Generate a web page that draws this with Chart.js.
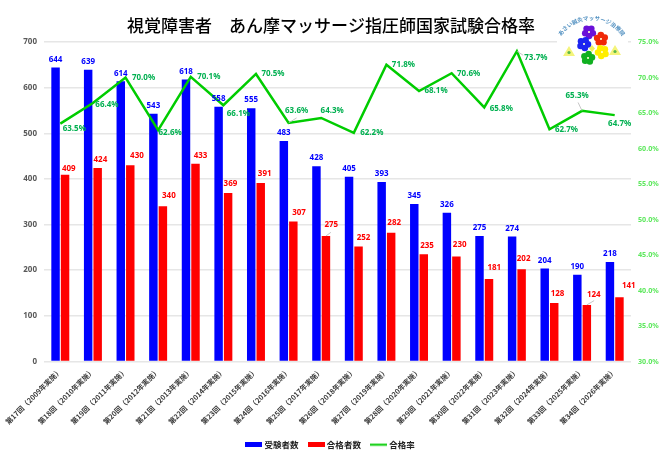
<!DOCTYPE html>
<html lang="ja">
<head>
<meta charset="utf-8">
<title>視覚障害者 あん摩マッサージ指圧師国家試験合格率</title>
<script src="https://cdn.jsdelivr.net/npm/chart.js@4"></script>
<style>
html,body{margin:0;padding:0;background:#fff}
#wrap{width:662px;height:458px}
</style>
</head>
<body>
<div id="wrap"><canvas id="c" width="662" height="458"></canvas></div>
<script>
const FONT = '"Noto Sans CJK JP","Noto Sans",sans-serif';
const NUM_FONT = '"Noto Sans",sans-serif';

const categories = [
  '第17回（2009年実施）','第18回（2010年実施）','第19回（2011年実施）','第20回（2012年実施）',
  '第21回（2013年実施）','第22回（2014年実施）','第23回（2015年実施）','第24回（2016年実施）',
  '第25回（2017年実施）','第26回（2018年実施）','第27回（2019年実施）','第28回（2020年実施）',
  '第29回（2021年実施）','第30回（2022年実施）','第31回（2023年実施）','第32回（2024年実施）',
  '第33回（2025年実施）','第34回（2026年実施）'
];
const examinees = [644,639,614,543,618,558,555,483,428,405,393,345,326,275,274,204,190,218];
const passers   = [409,424,430,340,433,369,391,307,275,252,282,235,230,181,202,128,124,141];
const passRates = [63.5,66.4,70.0,62.6,70.1,66.1,70.5,63.6,64.3,62.2,71.8,68.1,70.6,65.8,73.7,62.7,65.3,64.7];

// Hand placement of the value labels, relative to the top of each mark
const examineeShift = [0, -8];
const passerShift = [
  [3.7,-6.3],[2.7,-8.7],[6.7,-9.7],[6,-11],[5,-8.3],[2.3,-9],[4,-9.3],[5.7,-8.7],[5.3,-11],
  [5,-9],[3,-10],[3.3,-9],[3.3,-11.7],[5.3,-11.3],[2,-11],[3.3,-9.3],[7,-10],[9.3,-11]
];
const rateShift = [
  [14,5],[14,2],[18,0],[12,3],[18,0],[15,9],[17,0],[8,-12],[11,-7],
  [18,0],[17,0],[17,0],[17,0],[17,1],[19,6],[17,0],[-5,-15],[5,9]
];
// Thin connectors from a mark to a label that was moved away from it
const passerLeaders = {8:[5,-3.7], 16:[7.3,-4.3]};
const rateLeaders = {7:[8,-5], 14:[6.3,4], 16:[-4,-8.4]};

function swatch(color, h) {
  const s = document.createElement('canvas');
  s.width = 17; s.height = 5;
  const g = s.getContext('2d');
  g.fillStyle = color;
  g.fillRect(0, (5 - h) / 2, 17, h);
  return s;
}

const valueLabels = {
  id: 'valueLabels',
  afterDatasetsDraw(chart) {
    const { ctx } = chart;
    ctx.save();
    ctx.font = 'bold 8px ' + NUM_FONT;
    ctx.textAlign = 'center';
    ctx.textBaseline = 'middle';
    const leader = (p, d) => {
      ctx.strokeStyle = '#b8b8b8';
      ctx.lineWidth = 0.8;
      ctx.beginPath();
      ctx.moveTo(p.x, p.y);
      ctx.lineTo(p.x + d[0], p.y + d[1]);
      ctx.stroke();
    };
    chart.getDatasetMeta(0).data.forEach((bar, i) => {
      ctx.fillStyle = '#0000ff';
      ctx.fillText(examinees[i], bar.x + examineeShift[0], bar.y + examineeShift[1]);
    });
    chart.getDatasetMeta(1).data.forEach((bar, i) => {
      if (passerLeaders[i]) leader(bar, passerLeaders[i]);
      ctx.fillStyle = '#ff0000';
      ctx.fillText(passers[i], bar.x + passerShift[i][0], bar.y + passerShift[i][1]);
    });
    chart.getDatasetMeta(2).data.forEach((pt, i) => {
      if (rateLeaders[i]) leader(pt, rateLeaders[i]);
      ctx.fillStyle = '#00b050';
      ctx.fillText(passRates[i].toFixed(1) + '%', pt.x + rateShift[i][0], pt.y + rateShift[i][1]);
    });
    ctx.restore();
  }
};

// Clinic emblem in the upper right corner: arched name above five flowers
const emblem = {
  id: 'emblem',
  afterDraw(chart) {
    const { ctx } = chart;
    ctx.save();
    ctx.fillStyle = '#fff';
    ctx.fillRect(557, 14, 71, 56);

    const name = 'あさい鍼灸マッサージ治療院';
    ctx.font = 'bold 5.5px ' + FONT;
    ctx.fillStyle = '#4f8fc0';
    ctx.textAlign = 'center';
    ctx.textBaseline = 'middle';
    const step = 0.15;
    [...name].forEach((ch, i) => {
      const a = (i - (name.length - 1) / 2) * step;
      ctx.save();
      ctx.translate(591.5 + 39 * Math.sin(a), 57 - 39 * Math.cos(a));
      ctx.rotate(a);
      ctx.fillText(ch, 0, 0);
      ctx.restore();
    });

    const flower = (x, y, color, r, tilt) => {
      ctx.fillStyle = color;
      for (let k = 0; k < 5; k++) {
        const a = tilt + k * Math.PI * 2 / 5;
        ctx.beginPath();
        ctx.arc(x + Math.cos(a) * r, y + Math.sin(a) * r, r * 0.82, 0, Math.PI * 2);
        ctx.fill();
      }
      ctx.fillStyle = '#ffffc8';
      ctx.beginPath();
      ctx.arc(x, y, r * 0.22, 0, Math.PI * 2);
      ctx.fill();
    };
    flower(589, 32, '#6a10d8', 4, 0.3);
    flower(601, 39, '#f02808', 4, 0.9);
    flower(584, 44, '#1c24f0', 4, 0.1);
    flower(602, 52, '#ffee00', 4, 0.5);
    flower(588, 58, '#10b020', 4, 1.1);

    const leaf = (x, y) => {
      ctx.fillStyle = '#f4f47a';
      ctx.beginPath();
      ctx.moveTo(x - 6, y + 4);
      ctx.lineTo(x, y - 6);
      ctx.lineTo(x + 6, y + 4);
      ctx.closePath();
      ctx.fill();
      ctx.fillStyle = '#5cb84a';
      ctx.beginPath();
      ctx.arc(x, y + 0.5, 1.6, 0, Math.PI * 2);
      ctx.fill();
    };
    leaf(569, 52);
    leaf(615, 51);

    ctx.fillStyle = '#f0f060';
    ctx.beginPath();
    ctx.moveTo(592, 45); ctx.lineTo(595, 48.5); ctx.lineTo(592, 52); ctx.lineTo(589, 48.5);
    ctx.closePath();
    ctx.fill();
    ctx.restore();
  }
};

new Chart(document.getElementById('c'), {
  data: {
    labels: categories,
    datasets: [
      { type: 'bar', label: '受験者数', data: examinees, backgroundColor: '#0000ff',
        yAxisID: 'y', order: 2, categoryPercentage: 0.583, barPercentage: 0.89 },
      { type: 'bar', label: '合格者数', data: passers, backgroundColor: '#ff0000',
        yAxisID: 'y', order: 2, categoryPercentage: 0.583, barPercentage: 0.89 },
      { type: 'line', label: '合格率', data: passRates, borderColor: '#00cc00', borderWidth: 2.5,
        backgroundColor: '#00cc00', pointRadius: 0, tension: 0, yAxisID: 'y2', order: 1,
        borderJoinStyle: 'miter', clip: false }
    ]
  },
  options: {
    responsive: false,
    animation: false,
    devicePixelRatio: 1,
    layout: { padding: { left: 0, right: 0, top: 0, bottom: -1 }, autoPadding: false },
    plugins: {
      title: {
        display: true,
        text: '視覚障害者　あん摩マッサージ指圧師国家試験合格率',
        color: '#000',
        font: { family: FONT, size: 17, weight: '500' },
        padding: { top: 15, bottom: 6.6 }
      },
      legend: {
        position: 'bottom',
        labels: {
          usePointStyle: true,
          pointStyleWidth: 13,
          padding: 11,
          color: '#222',
          font: { family: FONT, size: 8.5, weight: 'bold' },
          generateLabels(chart) {
            const looks = [swatch('#0000ff', 5), swatch('#ff0000', 5), swatch('#00cc00', 2)];
            return chart.data.datasets.map((d, i) => ({
              text: d.label, pointStyle: looks[i], datasetIndex: i,
              fontColor: '#222', hidden: false, lineWidth: 0
            }));
          }
        }
      },
      tooltip: { enabled: false }
    },
    scales: {
      x: {
        grid: { display: false },
        border: { display: false },
        afterFit(s) { s.height = 68; },
        ticks: {
          autoSkip: false, minRotation: 45, maxRotation: 45, padding: -3,
          color: '#3a3a3a', font: { family: FONT, size: 7.2, weight: 'bold' }
        }
      },
      y: {
        position: 'left', min: 0, max: 700,
        afterFit(s) { s.width = 44; },
        grid: { color: '#e6e6e6', lineWidth: 1.5, drawTicks: false },
        border: { display: false },
        ticks: { stepSize: 100, padding: 7, color: '#595959',
                 font: { family: NUM_FONT, size: 8, weight: 'bold' } }
      },
      y2: {
        position: 'right', min: 30, max: 75,
        afterFit(s) { s.width = 31; },
        grid: { display: false, drawTicks: false },
        border: { display: false },
        ticks: { stepSize: 5, padding: 7, color: '#5fe85f',
                 font: { family: NUM_FONT, size: 7.2, weight: 'bold' },
                 callback: v => v.toFixed(1) + '%' }
      }
    }
  },
  plugins: [valueLabels, emblem]
});
</script>
</body>
</html>
